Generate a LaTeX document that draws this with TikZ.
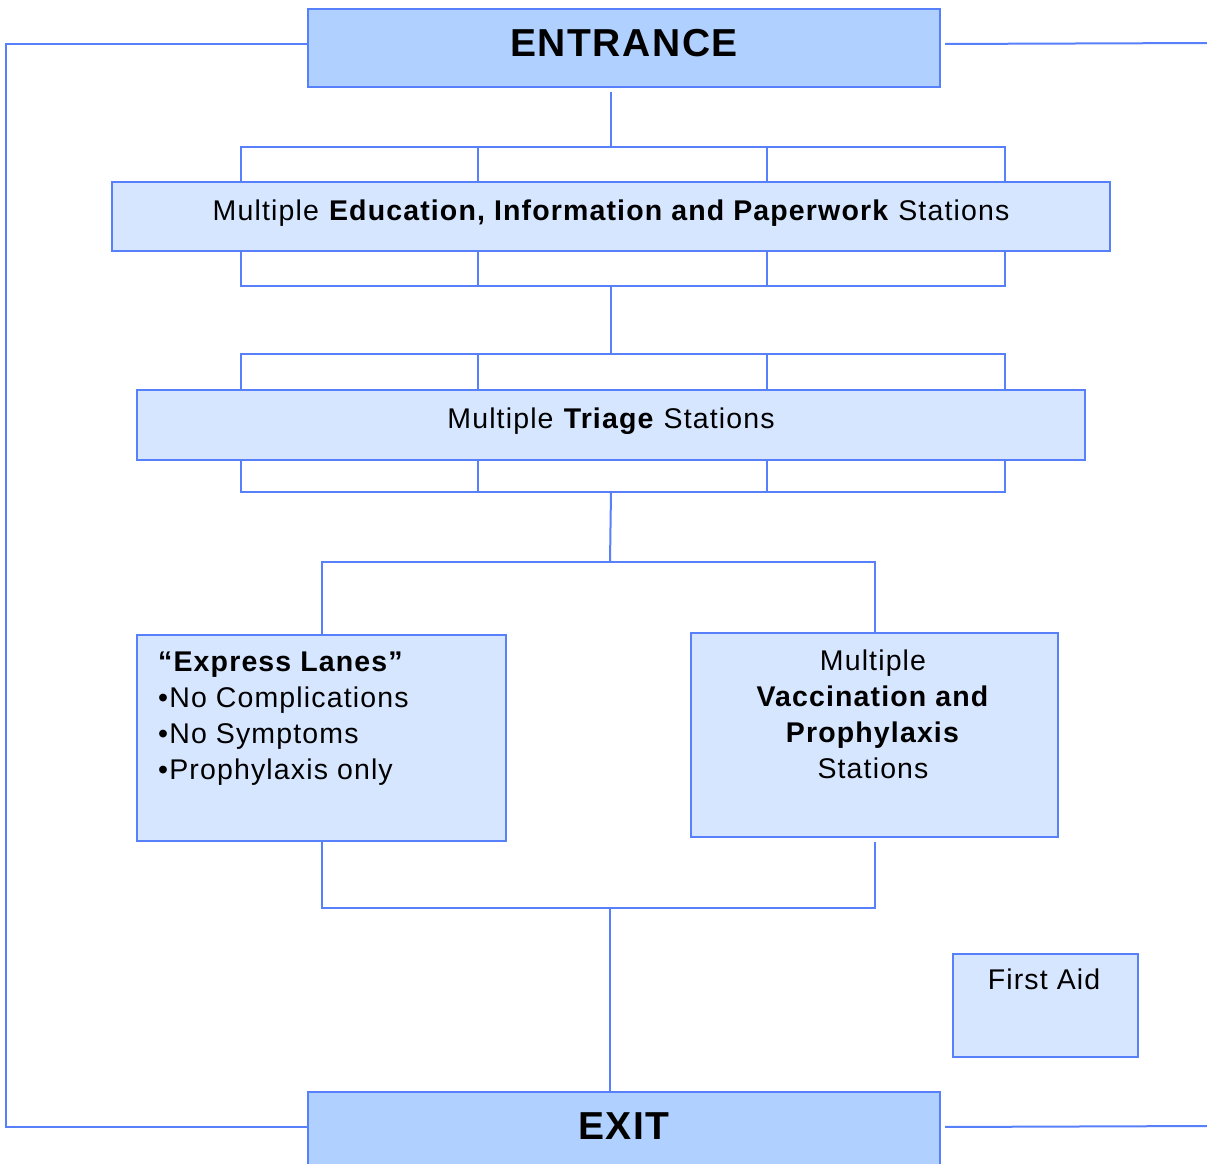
\documentclass[tikz,border=0pt]{standalone}
\usepackage{fontspec}
\setmainfont[LetterSpace=4]{Liberation Sans}
\definecolor{edge}{RGB}{88,128,250}
\definecolor{darkfill}{RGB}{176,208,255}
\definecolor{lightfill}{RGB}{215,230,255}
\begin{document}
\begin{tikzpicture}[x=1pt,y=-1pt,
  conn/.style={draw=edge, line width=2pt},
  basebox/.style={draw=edge, line width=2pt, inner sep=0pt, anchor=north west},
  darkbox/.style={basebox, fill=darkfill, text depth=10pt, font=\fontsize{39}{46}\selectfont\bfseries},
  lightbox/.style={basebox, fill=lightfill, font=\fontsize{28.5}{36}\selectfont},
  boxtext/.style={inner sep=0pt, font=\fontsize{28.5}{36}\selectfont}]
\useasboundingbox (0,0) rectangle (1207,1164);
\fill[white] (0,0) rectangle (1207,1164);

% boxes
\node[darkbox, minimum width=632, minimum height=78] (entrance) at (307,8) {ENTRANCE};
\node[lightbox, text depth=12pt, minimum width=998, minimum height=69] (edu) at (111,181)
  {Multiple \textbf{Education, Information and Paperwork} Stations};
\node[lightbox, text depth=13pt, minimum width=948, minimum height=70] (triage) at (136,389)
  {Multiple \textbf{Triage} Stations};
\node[lightbox, minimum width=369, minimum height=206] (express) at (136,634) {};
\node[boxtext, anchor=north west, align=left] (expresst) at (158,652)
  {\textbf{“Express Lanes”}\\•No Complications\\•No Symptoms\\•Prophylaxis only};
\node[lightbox, minimum width=367, minimum height=204] (vacc) at (690,632) {};
\node[boxtext, anchor=north, align=center] (vacct) at (873,650)
  {Multiple\\\textbf{Vaccination and}\\\textbf{Prophylaxis}\\Stations};
\node[lightbox, minimum width=185, minimum height=103] (firstaid) at (952,953) {};
\node[boxtext, anchor=north] (firstaidt) at (1044,969) {First Aid};
\node[darkbox, minimum width=632, minimum height=78] (exit) at (307,1091) {EXIT};

% outer loop lines
\coordinate (leftx) at (6,600);
\coordinate (rtop) at (1210,43);
\coordinate (rbot) at (1210,1126);
\draw[conn] ([yshift=4pt]entrance.west) -| (leftx) |- ([yshift=4pt]exit.west);
\draw[conn, shorten <=4pt] ([yshift=4pt]entrance.east) -- (rtop);
\draw[conn, shorten <=4pt] ([yshift=4pt]exit.east) -- (rbot);

% education brackets
\coordinate (ea1) at (241,147); \coordinate (ea2) at (478,147);
\coordinate (ea3) at (767,147); \coordinate (ea4) at (1005,147);
\coordinate (eb1) at (241,286); \coordinate (eb2) at (478,286);
\coordinate (eb3) at (767,286); \coordinate (eb4) at (1005,286);
\draw[conn, shorten <=4pt] (edu.north |- entrance.south) -- (edu.north |- ea1);
\draw[conn] (edu.north -| ea1) |- (ea4) -- (edu.north -| ea4);
\draw[conn] (ea2) -- (edu.north -| ea2);
\draw[conn] (ea3) -- (edu.north -| ea3);
\draw[conn] (edu.south -| eb1) |- (eb4) -- (edu.south -| eb4);
\draw[conn] (eb2) -- (edu.south -| eb2);
\draw[conn] (eb3) -- (edu.south -| eb3);

% triage brackets
\coordinate (ta1) at (241,354); \coordinate (ta2) at (478,354);
\coordinate (ta3) at (767,354); \coordinate (ta4) at (1005,354);
\coordinate (tb1) at (241,492); \coordinate (tb2) at (478,492);
\coordinate (tb3) at (767,492); \coordinate (tb4) at (1005,492);
\draw[conn] (edu.south |- eb1) -- (edu.south |- ta1);
\draw[conn] (triage.north -| ta1) |- (ta4) -- (triage.north -| ta4);
\draw[conn] (ta2) -- (triage.north -| ta2);
\draw[conn] (ta3) -- (triage.north -| ta3);
\draw[conn] (triage.south -| tb1) |- (tb4) -- (triage.south -| tb4);
\draw[conn] (tb2) -- (triage.south -| tb2);
\draw[conn] (tb3) -- (triage.south -| tb3);

% split to lanes
\coordinate (split) at (610,562);
\coordinate (merge) at (610,908);
\draw[conn] (triage.south |- tb1) -- (split);
\draw[conn] (express.north) |- (split) -| (vacc.north);
\draw[conn, shorten <=4pt] (vacc.south) |- (merge);
\draw[conn] (express.south) |- (merge);
\draw[conn] (merge) -- (exit.north -| merge);
\end{tikzpicture}
\end{document}
